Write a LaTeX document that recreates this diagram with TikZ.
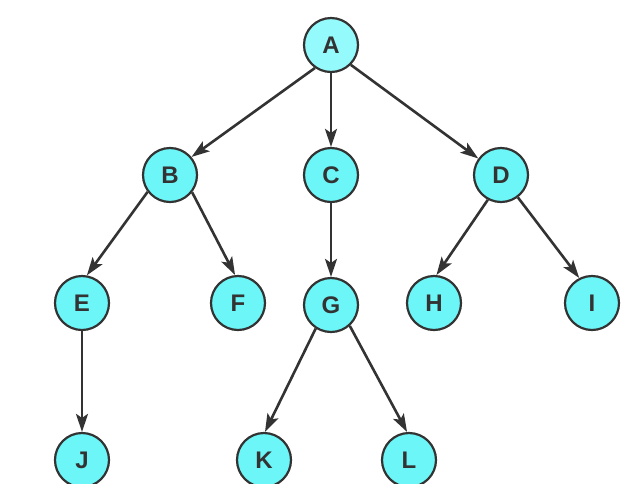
\documentclass[tikz,border=0pt]{standalone}
\usepackage{fontspec}
\setmainfont{Liberation Sans}
\usetikzlibrary{arrows.meta}
\definecolor{nodefill}{HTML}{6CF6F8}
\definecolor{rootfill}{HTML}{95FAFB}
\definecolor{edgegray}{HTML}{333333}

\begin{document}
\begin{tikzpicture}[x=1pt, y=-1pt,
        vert/.style={circle, draw=edgegray, fill=nodefill, line width=2.2pt,
            minimum size=54pt, inner sep=0pt, font=\fontsize{24}{24}\selectfont\bfseries, text=edgegray},
        edge/.style={draw=edgegray, line width=2.6pt, -{Stealth[length=18pt, width=12pt, inset=4pt]}}]

        \useasboundingbox (0,0) rectangle (642,483);

        % first level
        \node[vert, fill=rootfill] (A) at (331,45) {A};

        % second level
        \node[vert] (B) at (170,175) {B};
        \node[vert] (C) at (331,175) {C};
        \node[vert] (D) at (501,175) {D};

        % third level
        \node[vert] (E) at (82,303) {E};
        \node[vert] (F) at (238,303) {F};
        \node[vert] (G) at (331,305) {G};
        \node[vert] (H) at (434,303) {H};
        \node[vert] (I) at (592,303) {I};

        % fourth level
        \node[vert] (J) at (82,460) {J};
        \node[vert] (K) at (264,460) {K};
        \node[vert] (L) at (409,460) {L};

        \draw[edge] (A.235) -- (B.40);
        \draw[edge] (A.south) -- (C.north);
        \draw[edge] (A.315) -- (D.144);
        \draw[edge] (B.217) -- (E.80);
        \draw[edge] (B.322) -- (F.96);
        \draw[edge] (C.south) -- (G.north);
        \draw[edge] (D.242) -- (H.85);
        \draw[edge] (D.307) -- (I.117);
        \draw[edge] (E.south) -- (J.north);
        \draw[edge] (G.237) -- (K.88);
        \draw[edge] (G.312) -- (L.94);

    \end{tikzpicture}
\end{document}
